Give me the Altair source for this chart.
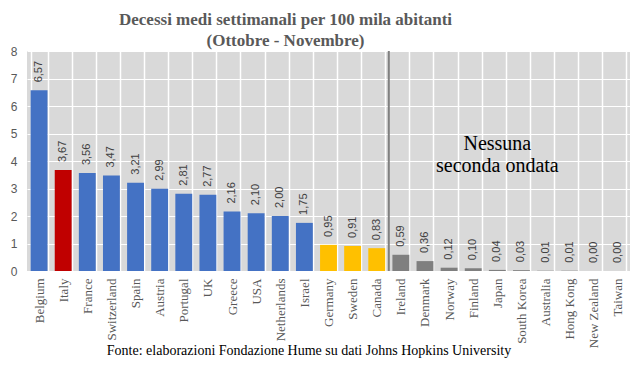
import altair as alt
import pandas as pd

countries = ["Belgium", "Italy", "France", "Switzerland", "Spain", "Austria", "Portugal", "UK",
             "Greece", "USA", "Netherlands", "Israel", "Germany", "Sweden", "Canada", "Ireland",
             "Denmark", "Norway", "Finland", "Japan", "South Korea", "Australia", "Hong Kong",
             "New Zealand", "Taiwan"]
values = [6.57, 3.67, 3.56, 3.47, 3.21, 2.99, 2.81, 2.77, 2.16, 2.10, 2.00, 1.75, 0.95, 0.91,
          0.83, 0.59, 0.36, 0.12, 0.10, 0.04, 0.03, 0.01, 0.01, 0.00, 0.00]
groups = ["blue", "red"] + ["blue"] * 10 + ["yellow"] * 3 + ["gray"] * 10

group_domain = ["blue", "red", "yellow", "gray"]
group_colors = ["#4472C4", "#C00000", "#FFC000", "#7F7F7F"]

df = pd.DataFrame({
    "country": countries,
    "value": values,
    "group": groups,
    "label": [f"{v:.2f}".replace(".", ",") for v in values],
})
one = pd.DataFrame({"k": [0]})

W, H = 603, 220
P_IN = 0.3
step = W / len(countries)

xscale = alt.Scale(domain=countries, paddingInner=P_IN, paddingOuter=P_IN / 2)
yscale = alt.Scale(domain=[0, 8], nice=False)

xaxis = alt.Axis(labelAngle=270, labelFont="Liberation Serif", labelFontSize=13,
                 labelColor="#595959", labelPadding=7, ticks=False, domain=False,
                 grid=True, tickBand="extent", gridColor="white", gridWidth=1.5)
yaxis = alt.Axis(values=list(range(0, 9)), labelFont="Liberation Sans", labelFontSize=12,
                 labelColor="#595959", labelPadding=10, ticks=False, domain=False,
                 grid=True, gridColor="white", gridWidth=1, labelOverlap=False)

bars = alt.Chart(df).mark_bar().encode(
    x=alt.X("country:N", sort=countries, title=None, scale=xscale, axis=xaxis),
    y=alt.Y("value:Q", title=None, scale=yscale, axis=yaxis),
    color=alt.Color("group:N", scale=alt.Scale(domain=group_domain, range=group_colors), legend=None),
)

labels = alt.Chart(df).mark_text(angle=270, align="left", baseline="middle", dx=8,
                                 font="Liberation Sans", fontSize=11, color="#404040").encode(
    x=alt.X("country:N", sort=countries, title=None, scale=xscale, axis=xaxis),
    y=alt.Y("value:Q", title=None, scale=yscale, axis=yaxis),
    text="label:N")

sep = alt.Chart(one).mark_rule(color="#808080", strokeWidth=2, xOffset=-step * P_IN / 2).encode(
    x=alt.X(datum="Ireland", type="nominal", bandPosition=0, title=None, scale=xscale, axis=xaxis),
    y=alt.Y(datum=8, type="quantitative", title=None, scale=yscale, axis=yaxis),
    y2=alt.Y2(datum=0),
)

note = alt.Chart(one).mark_text(text=["Nessuna", "seconda ondata"], font="Liberation Serif",
                                fontSize=20, lineHeight=22, color="black",
                                align="center", baseline="middle").encode(
    x=alt.X(datum="Japan", type="nominal", title=None, scale=xscale, axis=xaxis),
    y=alt.Y(datum=4.62, type="quantitative", title=None, scale=yscale, axis=yaxis),
)

source = alt.Chart(one).mark_text(
    text="Fonte: elaborazioni Fondazione Hume su dati Johns Hopkins University",
    font="Liberation Serif", fontSize=14, color="black",
    align="center", baseline="alphabetic").encode(
    x=alt.value(282), y=alt.value(304))

chart = alt.layer(bars, labels, sep, note, source).properties(
    width=W, height=H,
    title=alt.TitleParams(
        text=["Decessi medi settimanali per 100 mila abitanti", "(Ottobre - Novembre)"],
        font="Liberation Serif", fontSize=17, fontWeight="bold", color="#595959",
        anchor="middle", dx=-43, offset=-5, lineHeight=21),
    autosize=alt.AutoSizeParams(type="none"),
    padding={"left": 19, "top": 43, "right": 6, "bottom": 87},
).configure_view(fill="#d9d9d9", strokeWidth=0)

chart.save("out.html", embed_options={"renderer": "svg", "actions": False})
